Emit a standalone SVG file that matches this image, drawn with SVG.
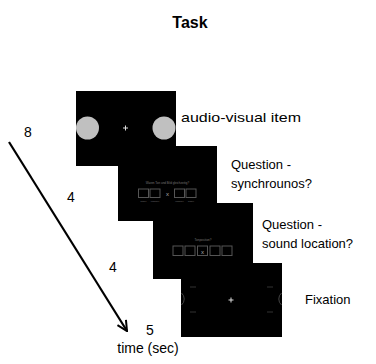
<svg xmlns="http://www.w3.org/2000/svg" width="376" height="364" viewBox="0 0 376 364">
<style>
.lbl{font-family:"Liberation Sans",Arial,sans-serif;font-size:13px;fill:#000}
.num{font-family:"Liberation Sans",Arial,sans-serif;font-size:14px;fill:#000}
.panel{fill:#000}
.box{fill:none;stroke:#555;stroke-width:1}
.tiny{font-family:"Liberation Sans",Arial,sans-serif;font-size:3px;fill:#777}
.cross{stroke:#ddd;stroke-width:1}
</style>
<defs>
<marker id="arr" viewBox="0 0 12 12" refX="11" refY="6" markerWidth="12" markerHeight="12" markerUnits="userSpaceOnUse" orient="auto">
<path d="M1,1 L11,6 L1,11" fill="none" stroke="#000" stroke-width="2"/>
</marker>
</defs>
<rect width="376" height="364" fill="#fff"/>
<text x="190" y="28" text-anchor="middle" style="font-family:'Liberation Sans',Arial,sans-serif;font-size:16px;font-weight:bold">Task</text>

<g id="fixation">
<rect class="panel" x="181" y="263" width="101" height="74"/>
<path d="M190,287h6M190,312h6M267,287h6M267,312h6" stroke="#333" stroke-width="1"/>
<path d="M181.5,293a8,8 0 0,1 0,12M281.5,293a8,8 0 0,0 0,12" fill="none" stroke="#444" stroke-width="1"/>
<path class="cross" d="M228.5,300h5M231,297.5v5"/>
<text class="lbl" x="305" y="304">Fixation</text>
</g>

<g id="question-location">
<rect class="panel" x="153" y="203" width="100" height="76"/>
<text class="tiny" x="203" y="241" text-anchor="middle">Tonposition?</text>
<rect class="box" x="173" y="246" width="10" height="9.5"/>
<rect class="box" x="185" y="246" width="10" height="9.5"/>
<rect class="box" x="197.5" y="246" width="10" height="9.5" stroke="#777"/>
<rect class="box" x="210" y="246" width="10" height="9.5"/>
<rect class="box" x="222" y="246" width="10" height="9.5"/>
<text x="202.5" y="253.5" text-anchor="middle" style="font-family:'Liberation Sans',Arial,sans-serif;font-size:6px;fill:#aaa">x</text>
<text class="lbl" x="262" y="229">Question -</text>
<text class="lbl" x="262" y="248">sound location?</text>
</g>

<g id="question-sync">
<rect class="panel" x="118" y="146" width="99" height="75"/>
<text class="tiny" x="167.5" y="183.5" text-anchor="middle">Waren Ton und Bild gleichzeitig?</text>
<rect class="box" x="138.5" y="189" width="10" height="8.5"/>
<rect class="box" x="150" y="189" width="10" height="8.5"/>
<rect class="box" x="174.5" y="189" width="10" height="8.5"/>
<rect class="box" x="186" y="189" width="10" height="8.5"/>
<text x="167.5" y="196" text-anchor="middle" style="font-family:'Liberation Sans',Arial,sans-serif;font-size:6px;fill:#aaa">x</text>
<text class="tiny" x="143.5" y="202" text-anchor="middle" style="font-size:2.2px">sicher</text>
<text class="tiny" x="155" y="202" text-anchor="middle" style="font-size:2.2px">unsicher</text>
<text class="tiny" x="179.5" y="202" text-anchor="middle" style="font-size:2.2px">unsicher</text>
<text class="tiny" x="191" y="202" text-anchor="middle" style="font-size:2.2px">sicher</text>
<text class="lbl" x="231" y="169">Question -</text>
<text class="lbl" x="231" y="188">synchrounos?</text>
</g>

<g id="audio-visual">
<rect class="panel" x="76" y="91" width="100" height="75"/>
<circle cx="87.5" cy="128" r="11.5" fill="#c0c0c0"/>
<circle cx="164" cy="128" r="11.5" fill="#c0c0c0"/>
<path class="cross" d="M123,128h5M125.5,125.5v5"/>
<text class="lbl" x="181" y="122" textLength="120" lengthAdjust="spacingAndGlyphs">audio-visual item</text>
</g>

<g id="connectors">
<line x1="9" y1="142" x2="127" y2="331" stroke="#000" stroke-width="2.2" marker-end="url(#arr)"/>
</g>

<g id="timeline-labels">
<text class="num" x="28" y="137" text-anchor="middle">8</text>
<text class="num" x="71" y="202" text-anchor="middle">4</text>
<text class="num" x="113" y="272" text-anchor="middle">4</text>
<text class="num" x="150" y="335" text-anchor="middle">5</text>
<text class="num" x="148" y="353" text-anchor="middle">time (sec)</text>
</g>
</svg>
